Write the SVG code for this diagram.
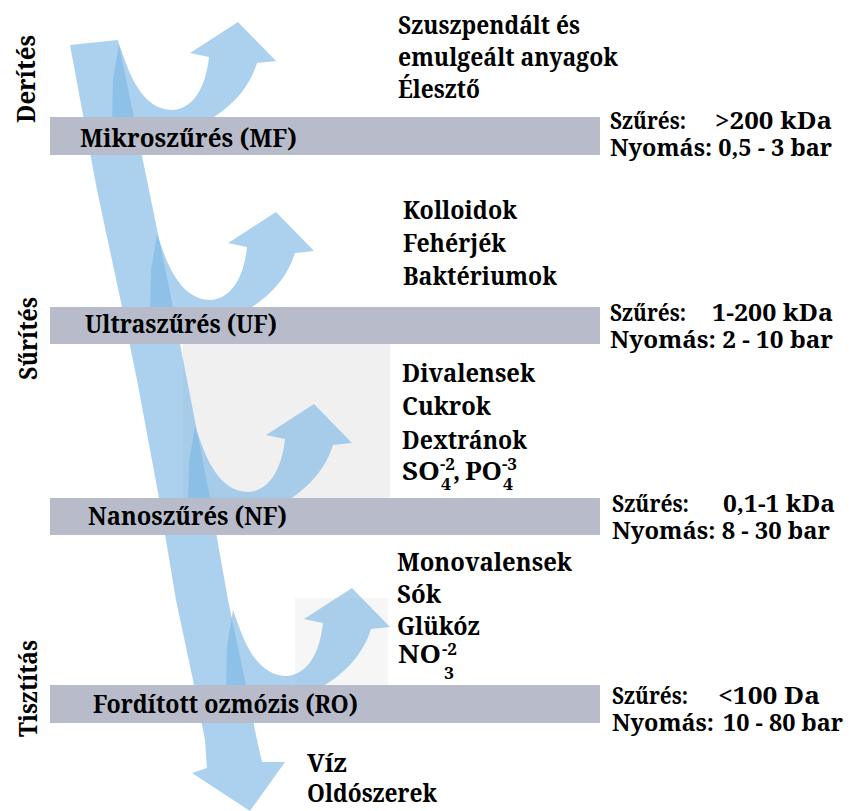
<svg xmlns="http://www.w3.org/2000/svg" xmlns:xlink="http://www.w3.org/1999/xlink" width="850" height="811" viewBox="0 0 850 811">
<style>
text{font-family:"Noto Serif","DejaVu Serif",serif;font-weight:bold;font-size:25px;fill:#000}
.s{font-size:17px}
.p{font-size:23px}
.bar{fill:#B8BCCA}
.flow{fill:#7EB8E5;opacity:.65}
.bg{fill:#F0F0F0}
</style>
<defs>
<path id="branch" d="M119,44 L113,80 L112,125 L200,125 C226,112 248,92 257,63 L276,61 L238,22 L190,53 L209,57 C206,85 195,108 173,110 C150,110 135,90 124,58 Z"/>
</defs>
<rect width="850" height="811" fill="#fff"/>
<g id="backgrounds">
<rect class="bg" x="183" y="343" width="207" height="155"/>
<rect x="295" y="598" width="93" height="87" fill="#F6F6F6"/>
</g>
<g id="connectors">
<path id="main-flow" class="flow" d="M70,45 L118,40 L149,190 L173,307 L187,380 L210,498 L228,600 L246,685 L257,740 L262,762 L285,762 L250,811 L192,773 L207,768 L205,740 L194,685 L176,600 L159,498 L137,380 L122,307 L97,190 Z"/>
<use id="branch-mf" class="flow" xlink:href="#branch" href="#branch"/>
<use id="branch-uf" class="flow" xlink:href="#branch" href="#branch" transform="translate(38,190)"/>
<use id="branch-nf" class="flow" xlink:href="#branch" href="#branch" transform="translate(76,382)"/>
<use id="branch-ro" class="flow" xlink:href="#branch" href="#branch" transform="translate(114,566)"/>
</g>
<g id="side-labels">
<text transform="translate(35,123) rotate(-90)" textLength="88" lengthAdjust="spacingAndGlyphs">Derítés</text>
<text transform="translate(37,380) rotate(-90)" textLength="83" lengthAdjust="spacingAndGlyphs">Sűrítés</text>
<text transform="translate(37,737) rotate(-90)" textLength="97" lengthAdjust="spacingAndGlyphs">Tisztítás</text>
</g>
<g id="mf">
<rect class="bar" x="50" y="117" width="550" height="38"/>
<text x="80" y="147" textLength="217" lengthAdjust="spacingAndGlyphs">Mikroszűrés (MF)</text>
<text class="p" x="610" y="129" textLength="76" lengthAdjust="spacingAndGlyphs">Szűrés:</text>
<text class="p" x="715" y="129" textLength="117" lengthAdjust="spacingAndGlyphs">&gt;200 kDa</text>
<text class="p" x="610" y="156" textLength="222" lengthAdjust="spacingAndGlyphs">Nyomás: 0,5 - 3 bar</text>
</g>
<g id="uf">
<rect class="bar" x="50" y="307" width="550" height="37"/>
<text x="85" y="333" textLength="192" lengthAdjust="spacingAndGlyphs">Ultraszűrés (UF)</text>
<text class="p" x="610" y="321" textLength="76" lengthAdjust="spacingAndGlyphs">Szűrés:</text>
<text class="p" x="712" y="321" textLength="121" lengthAdjust="spacingAndGlyphs">1-200 kDa</text>
<text class="p" x="610" y="348" textLength="223" lengthAdjust="spacingAndGlyphs">Nyomás: 2 - 10 bar</text>
</g>
<g id="nf">
<rect class="bar" x="50" y="498" width="550" height="37"/>
<text x="88" y="525" textLength="199" lengthAdjust="spacingAndGlyphs">Nanoszűrés (NF)</text>
<text class="p" x="612" y="512" textLength="77" lengthAdjust="spacingAndGlyphs">Szűrés:</text>
<text class="p" x="723" y="512" textLength="112" lengthAdjust="spacingAndGlyphs">0,1-1 kDa</text>
<text class="p" x="612" y="539" textLength="218" lengthAdjust="spacingAndGlyphs">Nyomás: 8 - 30 bar</text>
</g>
<g id="ro">
<rect class="bar" x="50" y="685" width="550" height="38"/>
<text x="93" y="713" textLength="265" lengthAdjust="spacingAndGlyphs">Fordított ozmózis (RO)</text>
<text class="p" x="612" y="704" textLength="76" lengthAdjust="spacingAndGlyphs">Szűrés:</text>
<text class="p" x="718" y="704" textLength="102" lengthAdjust="spacingAndGlyphs">&lt;100 Da</text>
<text class="p" x="612" y="731" textLength="102" lengthAdjust="spacingAndGlyphs">Nyomás:</text>
<text class="p" x="723" y="731" textLength="120" lengthAdjust="spacingAndGlyphs">10 - 80 bar</text>
</g>
<g id="retained-mf">
<text x="398" y="34" textLength="182" lengthAdjust="spacingAndGlyphs">Szuszpendált és</text>
<text x="398" y="66" textLength="220" lengthAdjust="spacingAndGlyphs">emulgeált anyagok</text>
<text x="398" y="98" textLength="82" lengthAdjust="spacingAndGlyphs">Élesztő</text>
</g>
<g id="retained-uf">
<text x="403" y="219" textLength="114" lengthAdjust="spacingAndGlyphs">Kolloidok</text>
<text x="403" y="252" textLength="103" lengthAdjust="spacingAndGlyphs">Fehérjék</text>
<text x="403" y="285" textLength="154" lengthAdjust="spacingAndGlyphs">Baktériumok</text>
</g>
<g id="retained-nf">
<text x="402" y="382" textLength="133" lengthAdjust="spacingAndGlyphs">Divalensek</text>
<text x="402" y="415" textLength="89" lengthAdjust="spacingAndGlyphs">Cukrok</text>
<text x="402" y="449" textLength="125" lengthAdjust="spacingAndGlyphs">Dextránok</text>
<text x="402" y="480" textLength="38" lengthAdjust="spacingAndGlyphs">SO</text>
<text class="s" x="440" y="470" textLength="15" lengthAdjust="spacingAndGlyphs">-2</text>
<text class="s" x="441" y="490" textLength="10" lengthAdjust="spacingAndGlyphs">4</text>
<text x="453" y="480">,</text>
<text x="465" y="480" textLength="37" lengthAdjust="spacingAndGlyphs">PO</text>
<text class="s" x="502" y="470" textLength="15" lengthAdjust="spacingAndGlyphs">-3</text>
<text class="s" x="503" y="490" textLength="10" lengthAdjust="spacingAndGlyphs">4</text>
</g>
<g id="retained-ro">
<text x="397" y="571" textLength="175" lengthAdjust="spacingAndGlyphs">Monovalensek</text>
<text x="397" y="603" textLength="44" lengthAdjust="spacingAndGlyphs">Sók</text>
<text x="397" y="635" textLength="83" lengthAdjust="spacingAndGlyphs">Glükóz</text>
<text x="398" y="663" textLength="43" lengthAdjust="spacingAndGlyphs">NO</text>
<text class="s" x="442" y="655" textLength="15" lengthAdjust="spacingAndGlyphs">-2</text>
<text class="s" x="444" y="679" textLength="10" lengthAdjust="spacingAndGlyphs">3</text>
</g>
<g id="permeate">
<text x="307" y="772" textLength="40" lengthAdjust="spacingAndGlyphs">Víz</text>
<text x="307" y="802" textLength="130" lengthAdjust="spacingAndGlyphs">Oldószerek</text>
</g>
</svg>
